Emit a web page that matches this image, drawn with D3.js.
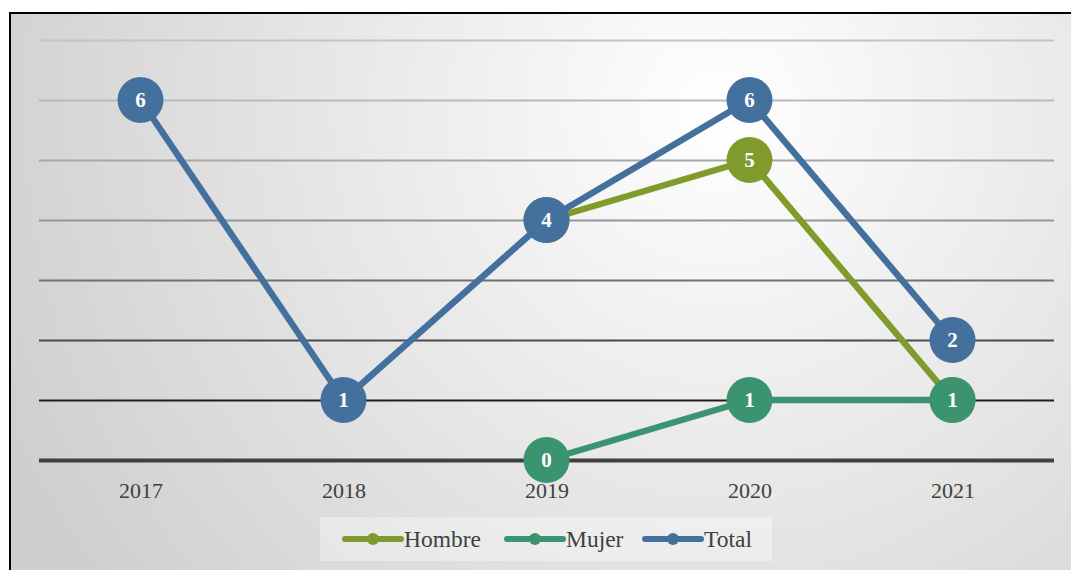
<!DOCTYPE html>
<html><head><meta charset="utf-8">
<script src="https://cdn.jsdelivr.net/npm/d3@7/dist/d3.min.js"></script>
<style>html,body{margin:0;padding:0;background:#fff;}svg{display:block;}</style>
</head><body>
<svg id="chart" width="1071" height="570"></svg>
<script>
const years = ["2017","2018","2019","2020","2021"];
const hombre = [null, null, 4, 5, 1];
const mujer = [null, null, 0, 1, 1];
const total = [6, 1, 4, 6, 2];
const yTicks = [0,1,2,3,4,5,6,7];
const seriesNames = ["Hombre","Mujer","Total"];
const seriesColors = ["#809b2b","#3b9470","#44709e"];

const svg = d3.select("#chart");
const W = 1071, H = 570;
const defs = svg.append("defs");
const rg = defs.append("radialGradient").attr("id","bg").attr("gradientUnits","userSpaceOnUse")
  .attr("cx",720).attr("cy",110).attr("r",780);
rg.append("stop").attr("offset","0").attr("stop-color","#ffffff");
rg.append("stop").attr("offset","1").attr("stop-color","#cfcfcf");

svg.append("rect").attr("x",10).attr("y",13).attr("width",W).attr("height",H)
  .attr("fill","url(#bg)").attr("stroke","#000").attr("stroke-width",2);

const x = d3.scalePoint().domain(years).range([39,1054]).padding(0.5);
const y = d3.scaleLinear().domain([0,7]).range([460,40]);

const gridColors = {0:"#404040",1:"#1e1e1e",2:"#4a4a4a",3:"#707070",4:"#959595",5:"#a8a8a8",6:"#bababa",7:"#c4c4c4"};
const gridAxis = d3.axisLeft(y).tickValues(yTicks).tickSize(-(1054-39)).tickFormat("");
const gg = svg.append("g").attr("transform","translate(39,0)").call(gridAxis);
gg.select(".domain").remove();
gg.selectAll(".tick line").attr("stroke",d=>gridColors[d]).attr("stroke-width",d=>d===0?4:2);

const xAxis = d3.axisBottom(x).tickSize(0).tickPadding(22);
const xg = svg.append("g").attr("transform","translate(0,460)").call(xAxis);
xg.select(".domain").remove();
xg.selectAll("text").attr("font-family","'Liberation Serif', serif").attr("font-size",22).attr("fill","#404040");

const data = [hombre, mujer, total];
const line = d3.line().defined(d=>d.v!==null).x(d=>x(d.y)).y(d=>y(d.v));
data.forEach((arr,i)=>{
  const pts = years.map((yr,j)=>({y:yr,v:arr[j]}));
  const g = svg.append("g");
  g.append("path").datum(pts).attr("d",line).attr("fill","none")
    .attr("stroke",seriesColors[i]).attr("stroke-width",6.5).attr("stroke-linejoin","round");
  const p = pts.filter(d=>d.v!==null);
  g.selectAll("circle").data(p).join("circle").attr("cx",d=>x(d.y)).attr("cy",d=>y(d.v)).attr("r",23)
    .attr("fill",seriesColors[i]);
  g.selectAll("text").data(p).join("text").attr("x",d=>x(d.y)).attr("y",d=>y(d.v)+7)
    .attr("text-anchor","middle").attr("font-family","'Liberation Serif', serif").attr("font-weight","bold")
    .attr("font-size",21).attr("fill","#fff").text(d=>d.v);
});

// legend
const lg = svg.append("g");
lg.append("rect").attr("x",320).attr("y",517).attr("width",452).attr("height",44).attr("fill","#ffffff").attr("fill-opacity",0.35);
const legX = [345,507,645];
seriesNames.forEach((n,i)=>{
  const gx = legX[i], cy = 539;
  lg.append("line").attr("x1",gx).attr("x2",gx+56).attr("y1",cy).attr("y2",cy).attr("stroke",seriesColors[i]).attr("stroke-width",6).attr("stroke-linecap","round");
  lg.append("circle").attr("cx",gx+28).attr("cy",cy).attr("r",6).attr("fill",seriesColors[i]);
  lg.append("text").attr("x",gx+59).attr("y",cy+8).attr("font-family","'Liberation Serif', serif").attr("font-size",23.5).attr("fill","#404040").text(n);
});
</script>
</body></html>
